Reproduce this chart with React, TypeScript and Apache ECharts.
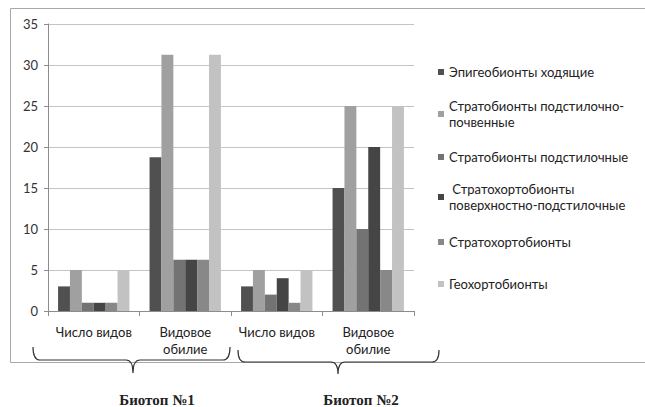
import React, { useEffect, useRef } from "react";
import * as echarts from "echarts";

const categories = ["Число видов", "Видовое\nобилие", "Число видов", "Видовое\nобилие"];
const yTicks = { min: 0, max: 35, interval: 5 };

const seriesNames = [
  "Эпигеобионты ходящие",
  "Стратобионты подстилочно-почвенные",
  "Стратобионты подстилочные",
  "Стратохортобионты поверхностно-подстилочные",
  "Стратохортобионты",
  "Геохортобионты",
];
const legendLabels = [
  "Эпигеобионты ходящие",
  "Стратобионты подстилочно-\nпочвенные",
  "Стратобионты подстилочные",
  " Стратохортобионты\nповерхностно-подстилочные",
  "Стратохортобионты",
  "Геохортобионты",
];

const epigeoWalking = [3, 18.75, 3, 15];
const stratoLitterSoil = [5, 31.25, 5, 25];
const stratoLitter = [1, 6.25, 2, 10];
const stratochortoSurface = [1, 6.25, 4, 20];
const stratochorto = [1, 6.25, 1, 5];
const geochorto = [5, 31.25, 5, 25];

const seriesValues = [
  epigeoWalking,
  stratoLitterSoil,
  stratoLitter,
  stratochortoSurface,
  stratochorto,
  geochorto,
];

const biotopeLabels = ["Биотоп №1", "Биотоп №2"];

const colors = ["#505050", "#a0a0a0", "#737373", "#454545", "#888888", "#c2c2c2"];

echarts.graphic.registerShape(
  "brace1",
  echarts.graphic.extendPath(
    "M33,347 Q33,360 40,360 L126,360 Q133,360 133,373 Q133,360 140,360 L223,360 Q230,360 230,347",
    {}
  )
);
echarts.graphic.registerShape(
  "brace2",
  echarts.graphic.extendPath(
    "M238,350 Q238,362 245,362 L331,362 Q338,362 338,374 Q338,362 345,362 L432,362 Q439,362 439,350",
    {}
  )
);

const FONT = "Lato, 'Open Sans', sans-serif";
const SERIF = "'Liberation Serif', 'Times New Roman', serif";

export default function App() {
  const ref = useRef<HTMLDivElement>(null);
  useEffect(() => {
    if (!ref.current) return;
    const chart = echarts.init(ref.current, undefined, { renderer: "svg" });
    const legendTops = [64, 90, 149, 173, 234, 276];
    const legends = seriesNames.map((name, i) => ({
      data: [name],
      left: 438,
      top: legendTops[i],
      orient: "vertical",
      padding: 0,
      itemWidth: 6,
      itemHeight: 6,
      icon: "rect",
      selectedMode: false,
      formatter: () => legendLabels[i],
      textStyle: {
        fontFamily: FONT,
        fontSize: 13,
        color: "#222",
        lineHeight: 16,
        padding: legendLabels[i].includes("\n") ? [16, 0, 0, 0] : 0,
      },
    }));
    chart.setOption({
      animation: false,
      backgroundColor: "#ffffff",
      color: colors,
      textStyle: { fontFamily: FONT },
      grid: { left: 48, top: 24, right: 231, bottom: 96 },
      legend: legends,
      xAxis: {
        type: "category",
        data: categories,
        axisLine: { lineStyle: { color: "#8c8c8c" } },
        axisTick: { show: true, length: 5, lineStyle: { color: "#8c8c8c" } },
        axisLabel: {
          fontFamily: FONT,
          fontSize: 13,
          color: "#222",
          margin: 12,
          lineHeight: 17,
          interval: 0,
        },
      },
      yAxis: {
        type: "value",
        min: yTicks.min,
        max: yTicks.max,
        interval: yTicks.interval,
        axisLine: { show: true, lineStyle: { color: "#8c8c8c" } },
        axisTick: { show: true, length: 4, lineStyle: { color: "#8c8c8c" } },
        splitLine: { lineStyle: { color: "#c4c4c4" } },
        axisLabel: { fontFamily: FONT, fontSize: 13, color: "#333", margin: 10 },
      },
      series: seriesNames.map((name, i) => ({
        name,
        type: "bar",
        data: seriesValues[i],
        barGap: "0%",
        barCategoryGap: "22%",
        itemStyle: { color: colors[i] },
      })),
      graphic: [
        {
          type: "rect",
          silent: true,
          z: -1,
          shape: { x: 10.5, y: 8.5, width: 660, height: 354 },
          style: { fill: "none", stroke: "#a8a8a8", lineWidth: 1 },
        },
        {
          type: "brace1",
          style: { fill: "none", stroke: "#333", lineWidth: 1.2 },
        },
        {
          type: "brace2",
          style: { fill: "none", stroke: "#333", lineWidth: 1.2 },
        },
        {
          type: "text",
          x: 157,
          y: 400,
          style: {
            text: biotopeLabels[0],
            fontFamily: SERIF,
            fontSize: 15,
            fontWeight: "bold",
            fill: "#222",
            align: "center",
            verticalAlign: "middle",
          },
        },
        {
          type: "text",
          x: 361,
          y: 400,
          style: {
            text: biotopeLabels[1],
            fontFamily: SERIF,
            fontSize: 15,
            fontWeight: "bold",
            fill: "#222",
            align: "center",
            verticalAlign: "middle",
          },
        },
      ],
    });
    return () => chart.dispose();
  }, []);
  return (
    <div
      ref={ref}
      style={{ position: "fixed", left: 0, top: 0, width: 645, height: 407 }}
    />
  );
}
